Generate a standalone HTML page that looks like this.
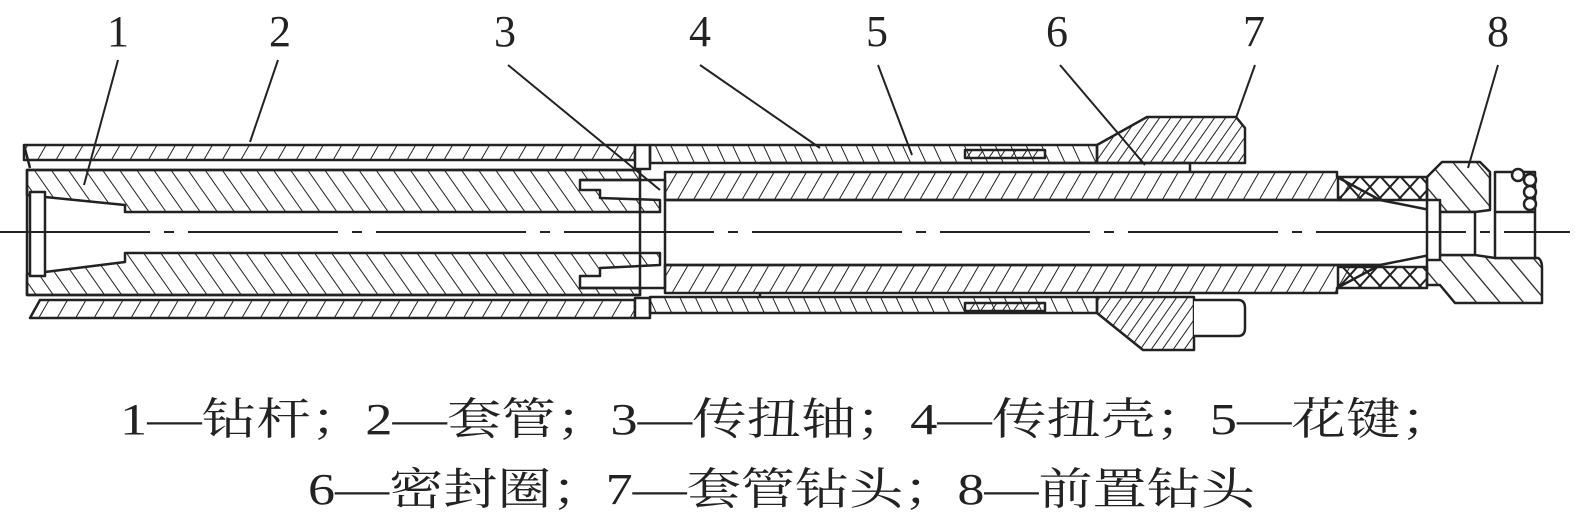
<!DOCTYPE html>
<html><head><meta charset="utf-8"><style>
body{margin:0;background:#fff;width:1575px;height:519px;overflow:hidden}
svg{display:block}
.t{font-family:"Liberation Serif","Noto Serif CJK SC",serif;fill:#222}
</style></head><body>
<svg width="1575" height="519" viewBox="0 0 1575 519" xmlns="http://www.w3.org/2000/svg">
<defs>
<pattern id="hb" width="14" height="14" patternUnits="userSpaceOnUse" patternTransform="rotate(-35)"><line x1="0" y1="0" x2="0" y2="14" stroke="#222" stroke-width="2"/></pattern>
<pattern id="hc" width="16" height="16" patternUnits="userSpaceOnUse" patternTransform="rotate(30)"><line x1="0" y1="0" x2="0" y2="16" stroke="#222" stroke-width="2"/></pattern>
<pattern id="hs" width="14" height="14" patternUnits="userSpaceOnUse" patternTransform="rotate(30)"><line x1="0" y1="0" x2="0" y2="14" stroke="#222" stroke-width="2"/></pattern>
<pattern id="hh" width="14" height="14" patternUnits="userSpaceOnUse" patternTransform="rotate(-25)"><line x1="0" y1="0" x2="0" y2="14" stroke="#222" stroke-width="2"/></pattern>
<pattern id="hd" width="9" height="9" patternUnits="userSpaceOnUse" patternTransform="rotate(35)"><line x1="0" y1="0" x2="0" y2="9" stroke="#222" stroke-width="2"/></pattern>
<pattern id="hx" width="20" height="22" patternUnits="userSpaceOnUse"><path d="M0 0L20 22M20 0L0 22" stroke="#222" stroke-width="2"/></pattern>
<pattern id="hbit" width="18" height="18" patternUnits="userSpaceOnUse" patternTransform="rotate(-40)"><line x1="0" y1="0" x2="0" y2="18" stroke="#222" stroke-width="2.5"/></pattern>
</defs>
<g stroke="#222" stroke-width="2.5" stroke-linejoin="round">
<!-- casing 2 -->
<rect x="24" y="145" width="611" height="15" fill="url(#hc)"/>
<path d="M24 145L30 168" fill="none"/>
<path d="M40 300L635 300L635 318L30 318Z" fill="url(#hc)"/>
<rect x="635" y="145" width="15" height="24" fill="#fff"/>
<rect x="635" y="298" width="15" height="20" fill="#fff"/>
<!-- drill rod 1 -->
<path d="M27 170L640 170L640 180L580 180L580 190L600 190L600 198L660 200L660 212L125 212L125 205L45 197L27 195Z" fill="url(#hb)"/>
<path d="M27 295L640 295L640 288L580 288L580 276L600 276L600 268L660 265L660 253L125 253L125 262L45 272L27 274Z" fill="url(#hb)"/>
<rect x="27" y="170" width="613" height="125" fill="none"/>
<rect x="30" y="192" width="15" height="84" fill="#fff"/>
<path d="M580 180L665 180L665 288L580 288" fill="none"/>
<!-- housing 4 upper -->
<path d="M650 145L1097 145L1097 163L650 163Z" fill="url(#hh)"/>
<path d="M1097 145L1147 117L1236 117L1245 128L1245 163L1097 163Z" fill="url(#hd)"/>
<path d="M760 163L1190 163L1190 172" fill="none"/>
<!-- housing lower -->
<path d="M650 297L1097 297L1097 313L650 313Z" fill="url(#hh)"/>
<path d="M1097 297L1194 297L1194 350L1143 350L1097 313Z" fill="url(#hd)"/>
<path d="M1194 300L1238 300Q1245 300 1245 308L1245 328Q1245 336 1238 336L1194 336" fill="#fff"/>
<path d="M760 293L760 297" fill="none"/>
<!-- shaft 3 -->
<path d="M665 172L1337 172L1337 177L1380 200L665 200Z" fill="url(#hs)"/>
<path d="M665 265L1380 265L1337 288L1337 293L665 293Z" fill="url(#hs)"/>
<path d="M665 200L1380 200L1430 210M665 265L1380 265L1430 255" fill="none"/>
<rect x="965" y="150" width="80" height="8" fill="url(#hd)"/>
<rect x="965" y="303" width="80" height="8" fill="url(#hd)"/>
<!-- seal -->
<rect x="1338" y="177" width="89" height="23" fill="url(#hx)"/>
<rect x="1338" y="267" width="89" height="21" fill="url(#hx)"/>
<!-- bit 8 -->
<path d="M1427 177L1442 162L1480 162L1490 172L1490 210L1475 212L1440 212L1427 200Z" fill="url(#hbit)"/>
<path d="M1427 260L1440 255L1475 255L1495 258L1538 258Q1542 260 1542 268L1542 303L1455 303L1440 285L1427 285Z" fill="url(#hbit)"/>
<rect x="1440" y="212" width="35" height="43" fill="#fff"/>
<rect x="1427" y="200" width="13" height="60" fill="#fff"/>
<path d="M1495 172L1535 172L1535 258L1495 258Z" fill="#fff"/>
<line x1="1495" y1="212" x2="1535" y2="212"/>
<circle cx="1518" cy="175" r="6" fill="#fff"/><circle cx="1530" cy="180" r="6" fill="#fff"/><circle cx="1530" cy="192" r="6" fill="#fff"/><circle cx="1530" cy="204" r="6" fill="#fff"/>
</g>
<line x1="0" y1="232" x2="1570" y2="232" stroke="#222" stroke-width="2" stroke-dasharray="150,14,10,14"/>
<g stroke="#222" stroke-width="2">
<line x1="118" y1="60" x2="84" y2="185"/>
<line x1="278" y1="60" x2="250" y2="142"/>
<line x1="508" y1="65" x2="660" y2="190"/>
<line x1="700" y1="65" x2="820" y2="148"/>
<line x1="878" y1="65" x2="912" y2="155"/>
<line x1="1060" y1="65" x2="1145" y2="165"/>
<line x1="1255" y1="65" x2="1236" y2="118"/>
<line x1="1498" y1="65" x2="1468" y2="168"/>
</g>
<g class="t" font-size="44">
<g text-anchor="middle">
<text x="118" y="46">1</text><text x="280" y="46">2</text><text x="505" y="46">3</text><text x="700" y="46">4</text>
<text x="877" y="46">5</text><text x="1057" y="46">6</text><text x="1254" y="46">7</text><text x="1498" y="46">8</text>
</g>
<text x="120" y="434" textLength="1335" lengthAdjust="spacingAndGlyphs">1—钻杆；2—套管；3—传扭轴；4—传扭壳；5—花键；</text>
<text x="308" y="504" textLength="947" lengthAdjust="spacingAndGlyphs">6—密封圈；7—套管钻头；8—前置钻头</text>
</g>
</svg>
</body></html>
